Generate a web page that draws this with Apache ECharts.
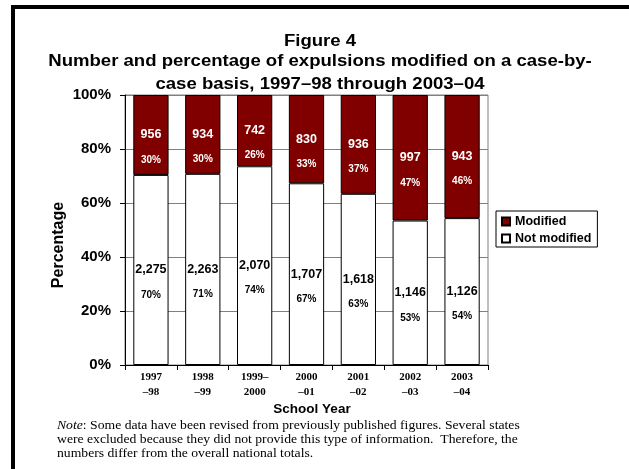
<!DOCTYPE html>
<html>
<head>
<meta charset="utf-8">
<script src="https://cdn.jsdelivr.net/npm/echarts@6/dist/echarts.min.js"></script>
<style>
html,body{margin:0;padding:0;background:#fff;}
#chart{width:629px;height:469px;}
</style>
</head>
<body>
<div id="chart"></div>
<script>
// ---- data ----
var categories = ['1997\n\u201398', '1998\n\u201399', '1999\u2013\n2000', '2000\n\u201301', '2001\n\u201302', '2002\n\u201303', '2003\n\u201304'];
var modifiedCounts = ['956', '934', '742', '830', '936', '997', '943'];
var notModifiedCounts = ['2,275', '2,263', '2,070', '1,707', '1,618', '1,146', '1,126'];
var modifiedPct = [29.6, 29.2, 26.4, 32.7, 36.6, 46.5, 45.6];
var notModifiedPct = [70.4, 70.8, 73.6, 67.3, 63.4, 53.5, 54.4];
var modifiedPctLabels = ['30%', '30%', '26%', '33%', '37%', '47%', '46%'];
var notModifiedPctLabels = ['70%', '71%', '74%', '67%', '63%', '53%', '54%'];
var yTicks = [0, 20, 40, 60, 80, 100];

var chart = echarts.init(document.getElementById('chart'), null, {renderer: 'canvas'});
var sans = 'Liberation Sans, Arial, sans-serif';
var serif = 'Liberation Serif, Times New Roman, serif';

function labelCfg(counts, pcts, color) {
  return {
    show: true,
    position: 'inside',
    offset: [0, 18],
    formatter: function (p) { return '{a|' + counts[p.dataIndex] + '}\n{b|' + pcts[p.dataIndex] + '}'; },
    rich: {
      a: {fontFamily: sans, fontWeight: 'bold', fontSize: 12.5, color: color, lineHeight: 14},
      b: {fontFamily: sans, fontWeight: 'bold', fontSize: 10, color: color, lineHeight: 36}
    }
  };
}

var option = {
  animation: false,
  backgroundColor: '#fff',
  grid: {left: 125, right: 141, top: 95, bottom: 104, show: true, borderColor: '#808080', borderWidth: 1, backgroundColor: 'transparent'},
  legend: {
    data: ['Modified', 'Not modified'],
    orient: 'vertical',
    left: 496, top: 211,
    padding: [4, 6, 2, 5],
    itemWidth: 8, itemHeight: 8, itemGap: 4,
    icon: 'rect',
    borderColor: '#000', borderWidth: 1,
    textStyle: {fontFamily: sans, fontWeight: 'bold', fontSize: 12.5, color: '#000'}
  },
  xAxis: {
    type: 'category',
    data: categories,
    axisLine: {lineStyle: {color: '#000', width: 1}},
    axisTick: {show: true, length: 5, lineStyle: {color: '#000'}},
    axisLabel: {fontFamily: serif, fontWeight: 'bold', fontSize: 11, color: '#000', lineHeight: 14.5, margin: 5, interval: 0}
  },
  yAxis: {
    type: 'value',
    min: yTicks[0], max: yTicks[yTicks.length - 1], interval: 20,
    axisLine: {show: true, lineStyle: {color: '#000', width: 1}},
    axisTick: {show: true, length: 5, lineStyle: {color: '#000'}},
    splitLine: {show: true, lineStyle: {color: '#808080', width: 1}},
    axisLabel: {fontFamily: sans, fontWeight: 'bold', fontSize: 15, color: '#000', margin: 14, formatter: '{value}%'}
  },
  series: [
    {
      name: 'Not modified', type: 'bar', stack: 'total', barWidth: '68%',
      data: notModifiedPct,
      itemStyle: {color: '#ffffff', borderColor: '#000', borderWidth: 1},
      label: labelCfg(notModifiedCounts, notModifiedPctLabels, '#000')
    },
    {
      name: 'Modified', type: 'bar', stack: 'total', barWidth: '68%',
      data: modifiedPct,
      itemStyle: {color: '#800000', borderColor: '#000', borderWidth: 1},
      label: labelCfg(modifiedCounts, modifiedPctLabels, '#fff')
    }
  ],
  graphic: [
    {type: 'rect', shape: {x: 13, y: 7, width: 1000, height: 1000}, style: {fill: 'none', stroke: '#000', lineWidth: 4}, silent: true},
    {type: 'text', x: 320, y: 41.5, scaleX: 1.16, style: {text: 'Figure 4', font: 'bold 16px ' + sans, fill: '#000', textAlign: 'center', textVerticalAlign: 'middle'}},
    {type: 'text', x: 320, y: 62, scaleX: 1.16, style: {text: 'Number and percentage of expulsions modified on a case-by-', font: 'bold 16px ' + sans, fill: '#000', textAlign: 'center', textVerticalAlign: 'middle'}},
    {type: 'text', x: 320, y: 85, scaleX: 1.16, style: {text: 'case basis, 1997\u201398 through 2003\u201304', font: 'bold 16px ' + sans, fill: '#000', textAlign: 'center', textVerticalAlign: 'middle'}},
    {type: 'text', x: 58.5, y: 245, rotation: Math.PI / 2, style: {text: 'Percentage', font: 'bold 16px ' + sans, fill: '#000', textAlign: 'center', textVerticalAlign: 'middle'}},
    {type: 'text', x: 312, y: 409, style: {text: 'School Year', font: 'bold 13.5px ' + sans, fill: '#000', textAlign: 'center', textVerticalAlign: 'middle'}},
    {type: 'text', x: 57, y: 419, scaleX: 1.14, style: {
      text: '{i|Note}: Some data have been revised from previously published figures. Several states\nwere excluded because they did not provide this type of information.  Therefore, the\nnumbers differ from the overall national totals.',
      font: '12px ' + serif, fill: '#000', lineHeight: 13.8, textVerticalAlign: 'top',
      rich: {i: {fontStyle: 'italic', fontFamily: serif, fontSize: 12, fill: '#000'}}
    }}
  ]
};
chart.setOption(option);
</script>
</body>
</html>
